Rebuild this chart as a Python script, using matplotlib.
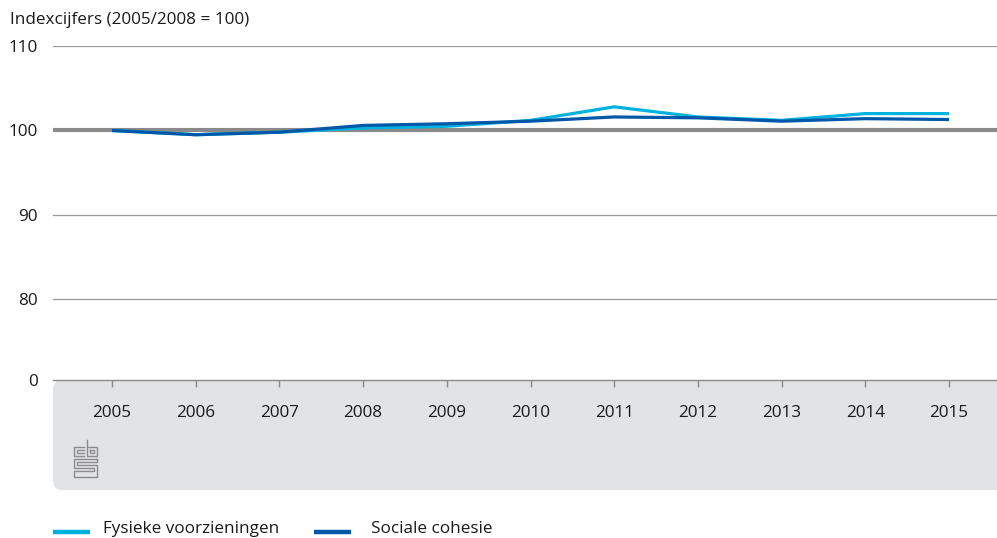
import matplotlib
matplotlib.use("Agg")
import matplotlib.pyplot as plt
from matplotlib.patches import FancyBboxPatch
from matplotlib.lines import Line2D

years = [2005, 2006, 2007, 2008, 2009, 2010, 2011, 2012, 2013, 2014, 2015]
fysieke = [100, 99.5, 99.8, 100.3, 100.5, 101.2, 102.8, 101.6, 101.2, 102.0, 102.0]
sociale = [100, 99.5, 99.8, 100.6, 100.8, 101.1, 101.6, 101.5, 101.1, 101.4, 101.3]
ytick_vals = [70.47, 80, 90, 100, 110]
ytick_labels = ["0", "80", "90", "100", "110"]
series_names = ["Fysieke voorzieningen", "Sociale cohesie"]
title = "Indexcijfers (2005/2008 = 100)"

LIGHT = "#00b2de"
DARK = "#0058a8"
GREY = "#8a8a8a"
TXT = "#1a1a1a"
FS = 12.3

plt.rcParams['font.family'] = ['Open Sans', 'DejaVu Sans']

W, H = 997, 538
fig = plt.figure(figsize=(W / 100, H / 100), dpi=100)

def fx(px):
    return px / W

def fy(py):
    return 1 - py / H

# grey band below the axis
band = FancyBboxPatch((fx(53), fy(490)), fx(997 - 53) + 0.02, fy(380) - fy(490),
                      boxstyle="round,pad=0,rounding_size=0.009",
                      transform=fig.transFigure, facecolor="#e2e3e5",
                      edgecolor="none", zorder=0, mutation_aspect=W / H)
fig.patches.append(band)

ax = fig.add_axes([fx(53), fy(380), fx(997 - 53), fy(46) - fy(380)])
ax.set_zorder(2)
ax.set_facecolor("none")
ax.set_xlim(2004.295, 2015.573)
ax.set_ylim(70.47, 110)

for v in [80, 90, 110]:
    ax.axhline(v, color="#9a9a9a", lw=0.9, zorder=1)
ax.axhline(100, color=GREY, lw=3.0, zorder=1)

ax.plot(years, fysieke, color=LIGHT, lw=2.3, zorder=3, solid_capstyle="butt")
ax.plot(years, sociale, color=DARK, lw=2.3, zorder=4, solid_capstyle="butt")

for s in ["top", "right", "left"]:
    ax.spines[s].set_visible(False)
ax.spines["bottom"].set_color(GREY)
ax.spines["bottom"].set_linewidth(1.0)

ax.set_xticks(years)
ax.set_xticklabels([str(y) for y in years])
ax.tick_params(axis="x", direction="out", length=5, width=1, color=GREY,
               pad=13, labelsize=FS, labelcolor=TXT)
ax.set_yticks(ytick_vals)
ax.set_yticklabels(ytick_labels)
ax.tick_params(axis="y", length=0, pad=11, labelsize=FS, labelcolor=TXT)

fig.text(fx(10), fy(20), title, fontsize=FS, color=TXT, va="center", ha="left")

# CBS logo (simple line drawing)
lc = "#8c8c8c"
lw = 1.0
def pl(xs, ys):
    fig.add_artist(Line2D([fx(x) for x in xs], [fy(y) for y in ys],
                          color=lc, lw=lw, transform=fig.transFigure, zorder=3))
# "c"
pl([84, 74, 74, 84], [447, 447, 456, 456])
pl([84, 77, 77, 84], [450, 450, 453, 453])
# "b"
pl([87, 87, 97, 97, 87], [440, 456, 456, 447, 447])
pl([90, 90, 94, 94, 90], [450, 453, 453, 450, 450])
# "S"
pl([97, 74, 74, 94, 94, 74, 74, 97, 97, 77, 77, 97, 97], [459, 459, 468, 468, 471, 471, 477, 477, 465, 465, 462, 462, 459])

# legend
fig.add_artist(Line2D([fx(53), fx(90)], [fy(532), fy(532)], color=LIGHT, lw=3.2,
                      transform=fig.transFigure, solid_capstyle="butt"))
fig.text(fx(103), fy(529), series_names[0], fontsize=FS, color=TXT, va="center")
fig.add_artist(Line2D([fx(314), fx(351)], [fy(532), fy(532)], color=DARK, lw=3.2,
                      transform=fig.transFigure, solid_capstyle="butt"))
fig.text(fx(371), fy(529), series_names[1], fontsize=FS, color=TXT, va="center")

fig.savefig("out.png", dpi=100)
